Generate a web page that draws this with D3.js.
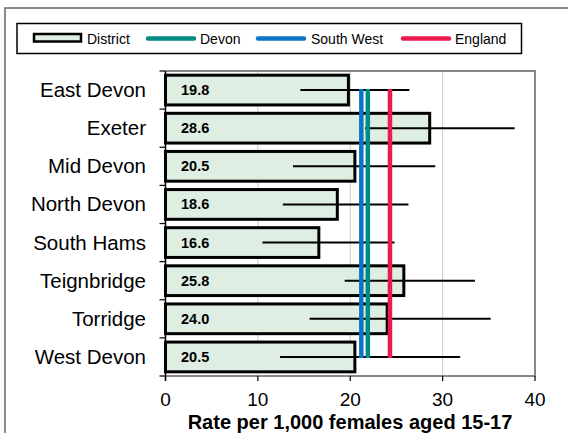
<!DOCTYPE html>
<html><head><meta charset="utf-8">
<script src="https://cdn.jsdelivr.net/npm/d3@7"></script>
<style>body{margin:0;background:#fff}svg{display:block;font-family:"Liberation Sans",Arial,sans-serif}</style>
</head><body><svg id="c" width="568" height="433"></svg>
<script>
const districts = ["East Devon","Exeter","Mid Devon","North Devon","South Hams","Teignbridge","Torridge","West Devon"];
const rates = [19.8, 28.6, 20.5, 18.6, 16.6, 25.8, 24.0, 20.5];
const ciLow = [14.6, 21.6, 13.8, 12.7, 10.5, 19.4, 15.6, 12.4];
const ciHigh = [26.4, 37.8, 29.2, 26.3, 24.8, 33.5, 35.2, 31.9];
const refNames = ["Devon","South West","England"];
const refValues = [21.9, 21.2, 24.3];
const refColors = ["#008a84","#0a74c8","#ec1a4f"];
const xTicks = [0,10,20,30,40];
const xTitle = "Rate per 1,000 females aged 15-17";

const svg = d3.select("#c");
const L = 165.5, R = 535, T = 71, B = 376;
const x = d3.scaleLinear().domain([0,40]).range([L,R]);
const y = d3.scaleBand().domain(districts).range([T,B]).paddingInner(0.22).paddingOuter(0.11);
const yb = d3.scaleBand().domain(districts).range([T,B]);
const fill = "#deeee2";

// outer frame
svg.append("path").attr("d","M5,433 V8 H568").attr("fill","none").attr("stroke","#666").attr("stroke-width",1.5);

// legend
const lg = svg.append("g");
lg.append("rect").attr("x",17).attr("y",23.5).attr("width",504.5).attr("height",30).attr("fill","#fff").attr("stroke","#000").attr("stroke-width",1.5);
lg.append("rect").attr("x",34).attr("y",34).attr("width",47).attr("height",7.5).attr("fill",fill).attr("stroke","#000").attr("stroke-width",2.5);
lg.append("text").attr("x",87).attr("y",43.5).attr("font-size",14).text("District");
const legItems = [[146,200,0],[256,311,1],[401,455,2]];
legItems.forEach(([lx,tx,i])=>{
  lg.append("line").attr("x1",lx+2).attr("x2",lx+48).attr("y1",38.5).attr("y2",38.5).attr("stroke",refColors[i]).attr("stroke-width",4.5).attr("stroke-linecap","round");
  lg.append("text").attr("x",tx).attr("y",43.5).attr("font-size",14).text(refNames[i]);
});

// gridlines
svg.append("g").selectAll("line").data(xTicks.filter(d=>d>0&&d<40)).join("line")
  .attr("x1",d=>x(d)).attr("x2",d=>x(d)).attr("y1",T).attr("y2",B).attr("stroke","#c8c8c8").attr("stroke-width",1);

// plot border (top/right/bottom)
svg.append("path").attr("d",`M${L},${T} H${R} V${B} H${L}`).attr("fill","none").attr("stroke","#888").attr("stroke-width",2);

// bars
svg.append("g").selectAll("rect").data(districts).join("rect")
  .attr("x",x(0)).attr("y",d=>y(d)).attr("width",(d,i)=>x(rates[i])-x(0)).attr("height",y.bandwidth())
  .attr("fill",fill).attr("stroke","#000").attr("stroke-width",3);

// value labels
svg.append("g").selectAll("text").data(districts).join("text")
  .attr("x",181).attr("y",d=>yb(d)+yb.bandwidth()/2+5).attr("font-size",14.5).attr("font-weight","bold")
  .text((d,i)=>rates[i].toFixed(1));

// error bars
svg.append("g").selectAll("line").data(districts).join("line")
  .attr("x1",(d,i)=>x(ciLow[i])).attr("x2",(d,i)=>x(ciHigh[i]))
  .attr("y1",d=>yb(d)+yb.bandwidth()/2).attr("y2",d=>yb(d)+yb.bandwidth()/2)
  .attr("stroke","#000").attr("stroke-width",2);

// reference lines
const yTop = yb(districts[0])+yb.bandwidth()/2-1, yBot = yb(districts[districts.length-1])+yb.bandwidth()/2+1;
svg.append("g").selectAll("line").data(refValues).join("line")
  .attr("x1",d=>x(d)).attr("x2",d=>x(d)).attr("y1",yTop).attr("y2",yBot)
  .attr("stroke",(d,i)=>refColors[i]).attr("stroke-width",4.5);

// y axis
const ya = svg.append("g");
ya.append("line").attr("x1",L).attr("x2",L).attr("y1",T).attr("y2",B+5).attr("stroke","#000").attr("stroke-width",1.5);
ya.selectAll("line.t").data(districts.concat(["_end"])).join("line").attr("class","t")
  .attr("x1",L-6).attr("x2",L).attr("y1",(d,i)=>T+i*yb.step()).attr("y2",(d,i)=>T+i*yb.step())
  .attr("stroke","#000").attr("stroke-width",1.2);
ya.selectAll("text").data(districts).join("text")
  .attr("x",146).attr("y",d=>yb(d)+yb.bandwidth()/2+7).attr("text-anchor","end").attr("font-size",20.5).text(d=>d);

// x axis
const xa = svg.append("g");
xa.selectAll("line").data(xTicks).join("line")
  .attr("x1",d=>x(d)).attr("x2",d=>x(d)).attr("y1",B).attr("y2",B+5).attr("stroke","#000").attr("stroke-width",1.2);
xa.selectAll("text").data(xTicks).join("text")
  .attr("x",d=>x(d)).attr("y",406).attr("text-anchor","middle").attr("font-size",19).text(d=>d);
svg.append("text").attr("x",350).attr("y",429).attr("text-anchor","middle").attr("font-size",20).attr("font-weight","bold").text(xTitle);
</script></body></html>
